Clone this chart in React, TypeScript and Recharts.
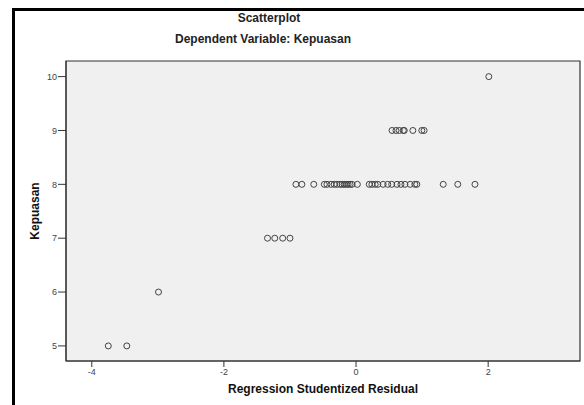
import { CartesianGrid, ReferenceArea, Scatter, ScatterChart, XAxis, YAxis, Label } from 'recharts'

// Kepuasan levels and studentized residuals
const levels = [10, 9, 8, 7, 6, 5]
const res10 = [2.01]
const res9 = [0.545, 0.605, 0.655, 0.715, 0.73, 0.86, 0.995, 1.03]
const res8 = [
  -0.91, -0.82, -0.64, -0.48, -0.44, -0.38, -0.33, -0.29, -0.24, -0.21, -0.18, -0.15, -0.12,
  -0.09, -0.06, 0.02, 0.2, 0.24, 0.29, 0.33, 0.41, 0.48, 0.54, 0.62, 0.68, 0.74, 0.82, 0.89,
  0.92, 1.32, 1.54, 1.8,
]
const res7 = [-1.34, -1.23, -1.11, -1.0]
const res6 = [-2.99]
const res5 = [-3.75, -3.47]

const xTicks = [-4, -2, 0, 2]
const yTicks = [5, 6, 7, 8, 9, 10]
const xDomain = [-4.39, 3.39]
const yDomain = [4.72, 10.29]

const groups = [res10, res9, res8, res7, res6, res5]
const data = groups.flatMap((g, i) => g.map((r) => ({ residual: r, kepuasan: levels[i] })))

const font = 'Arial, "Liberation Sans", sans-serif'

const Ring = (props: any) => (
  <circle cx={props.cx} cy={props.cy} r={3} fill='none' stroke='#444' strokeWidth={1} />
)

const App = () => {
  return (
    <div style={{ position: 'absolute', left: 0, top: 0, width: 584, height: 405, background: '#fff', fontFamily: font }}>
      {/* outer frame */}
      <div
        style={{
          position: 'absolute',
          left: 12,
          top: 8,
          width: 572,
          height: 397,
          borderLeft: '3px solid #000',
          borderTop: '3px solid #000',
        }}
      />
      <div style={{ position: 'absolute', left: 169, width: 200, top: 11, textAlign: 'center', fontWeight: 'bold', fontSize: 12, color: '#222' }}>
        Scatterplot
      </div>
      <div style={{ position: 'absolute', left: 113, width: 300, top: 32, textAlign: 'center', fontWeight: 'bold', fontSize: 12, color: '#222' }}>
        Dependent Variable: Kepuasan
      </div>
      <div style={{ position: 'absolute', left: 0, top: 0 }}>
        <ScatterChart width={584} height={405} margin={{ top: 61, right: 4, bottom: 0, left: 0 }}>
          <CartesianGrid fill='#f0f0f0' horizontal={false} vertical={false} />
          <ReferenceArea
            x1={xDomain[0]}
            x2={xDomain[1]}
            y1={yDomain[0]}
            y2={yDomain[1]}
            fill='none'
            stroke='#333'
            strokeWidth={1.2}
            ifOverflow='visible'
          />
          <XAxis
            type='number'
            dataKey='residual'
            domain={xDomain}
            ticks={xTicks}
            allowDataOverflow
            height={44}
            tickSize={6}
            tickMargin={2}
            axisLine={{ stroke: '#333' }}
            tickLine={{ stroke: '#333' }}
            tick={{ fontSize: 9, fill: '#444', fontFamily: font }}
          >
            <Label
              value='Regression Studentized Residual'
              position='insideBottom'
              offset={12}
              style={{ fontSize: 12, fontWeight: 'bold', fill: '#111', fontFamily: font }}
            />
          </XAxis>
          <YAxis
            type='number'
            dataKey='kepuasan'
            domain={yDomain}
            ticks={yTicks}
            allowDataOverflow
            width={66}
            tickSize={8}
            tickMargin={1}
            axisLine={{ stroke: '#333' }}
            tickLine={{ stroke: '#333' }}
            tick={{ fontSize: 9, fill: '#444', fontFamily: font }}
          >
            <Label
              value='Kepuasan'
              angle={-90}
              position='insideLeft'
              offset={35}
              style={{ fontSize: 12, fontWeight: 'bold', fill: '#111', fontFamily: font, textAnchor: 'middle' }}
            />
          </YAxis>
          <Scatter data={data} shape={Ring} isAnimationActive={false} />
        </ScatterChart>
      </div>
    </div>
  )
}

export default App
